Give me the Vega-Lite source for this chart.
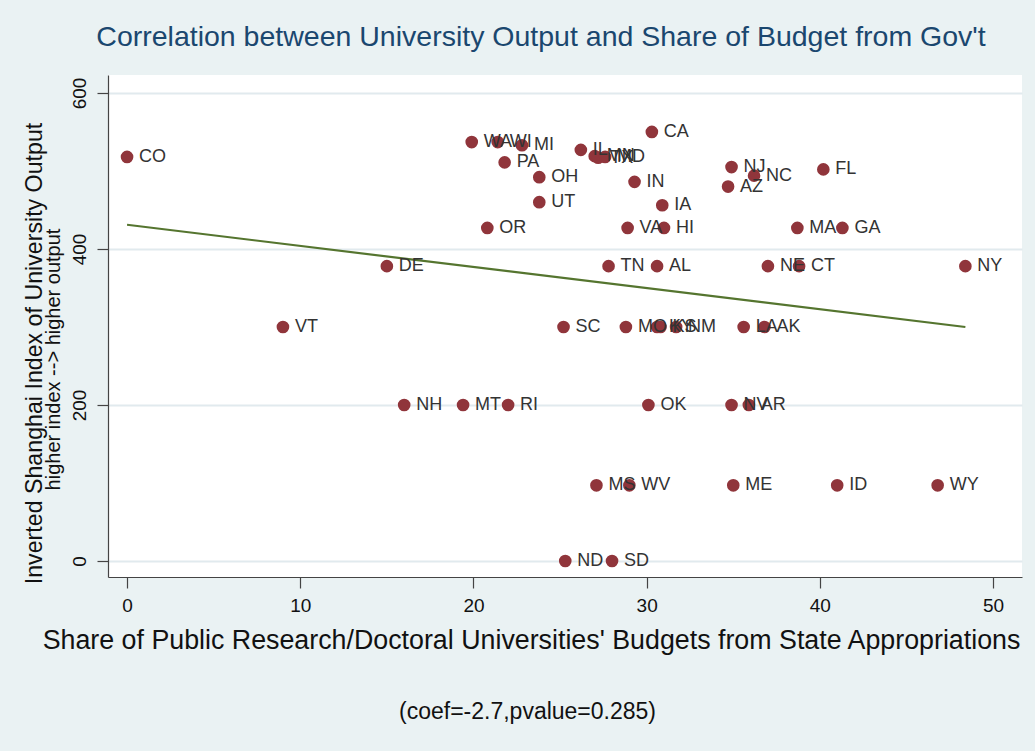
{
  "$schema": "https://vega.github.io/schema/vega-lite/v6.json",
  "width": 914,
  "height": 502,
  "autosize": {"type": "none"},
  "padding": {"left": 108, "top": 75, "right": 13, "bottom": 174},
  "background": "#EAF2F3",
  "title": {
    "text": "Correlation between University Output and Share of Budget from Gov't",
    "fontSize": 28.5,
    "font": "Liberation Sans",
    "fontWeight": "normal",
    "color": "#1A476F",
    "anchor": "middle",
    "dx": -24,
    "offset": 24
  },
  "config": {
    "view": {"stroke": null, "fill": "white"},
    "font": "Liberation Sans"
  },
  "datasets": {
    "states": [
      {"state": "CO", "share": 0, "index": 518},
      {"state": "VT", "share": 9.0, "index": 300},
      {"state": "DE", "share": 15.0, "index": 378},
      {"state": "NH", "share": 16.0, "index": 200},
      {"state": "MT", "share": 19.4, "index": 200},
      {"state": "RI", "share": 22.0, "index": 200},
      {"state": "WA", "share": 19.9, "index": 537},
      {"state": "WI", "share": 21.4, "index": 537},
      {"state": "MI", "share": 22.8, "index": 533},
      {"state": "PA", "share": 21.8, "index": 511},
      {"state": "OH", "share": 23.8, "index": 492},
      {"state": "UT", "share": 23.8, "index": 460},
      {"state": "OR", "share": 20.8, "index": 427},
      {"state": "CA", "share": 30.3, "index": 550},
      {"state": "IN", "share": 29.3, "index": 486},
      {"state": "IA", "share": 30.9, "index": 456},
      {"state": "VA", "share": 28.9, "index": 427},
      {"state": "HI", "share": 31.0, "index": 427},
      {"state": "TN", "share": 27.8, "index": 378},
      {"state": "AL", "share": 30.6, "index": 378},
      {"state": "IL", "share": 26.2, "index": 527},
      {"state": "MN", "share": 27.0, "index": 519},
      {"state": "TX", "share": 27.2, "index": 517},
      {"state": "MD", "share": 27.6, "index": 518},
      {"state": "NJ", "share": 34.9, "index": 505},
      {"state": "NC", "share": 36.2, "index": 494},
      {"state": "AZ", "share": 34.7, "index": 480},
      {"state": "FL", "share": 40.2, "index": 502},
      {"state": "MA", "share": 38.7, "index": 427},
      {"state": "GA", "share": 41.3, "index": 427},
      {"state": "NE", "share": 37.0, "index": 378},
      {"state": "CT", "share": 38.8, "index": 378},
      {"state": "NY", "share": 48.4, "index": 378},
      {"state": "SC", "share": 25.2, "index": 300},
      {"state": "MO", "share": 28.8, "index": 300},
      {"state": "KY", "share": 30.6, "index": 300},
      {"state": "KS", "share": 30.8, "index": 300},
      {"state": "NM", "share": 31.7, "index": 300},
      {"state": "LA", "share": 35.6, "index": 300},
      {"state": "AK", "share": 36.8, "index": 300},
      {"state": "OK", "share": 30.1, "index": 200},
      {"state": "NV", "share": 34.9, "index": 200},
      {"state": "AR", "share": 35.9, "index": 200},
      {"state": "MS", "share": 27.1, "index": 97},
      {"state": "WV", "share": 29.0, "index": 97},
      {"state": "ME", "share": 35.0, "index": 97},
      {"state": "ID", "share": 41.0, "index": 97},
      {"state": "WY", "share": 46.8, "index": 97},
      {"state": "ND", "share": 25.3, "index": 0},
      {"state": "SD", "share": 28.0, "index": 0}
    ],
    "fit": [
      {"share": 0, "fitted": 431},
      {"share": 48.4, "fitted": 300}
    ]
  },
  "resolve": {"scale": {"x": "independent", "y": "independent"}},
  "layer": [
    {
      "layer": [
        {
          "data": {"name": "fit"},
          "mark": {"type": "line", "color": "#55752F", "strokeWidth": 2.2},
          "encoding": {
            "x": {"field": "share", "type": "quantitative"},
            "y": {"field": "fitted", "type": "quantitative"}
          }
        },
        {
          "data": {"name": "states"},
          "mark": {"type": "circle", "size": 160, "color": "#90353B", "opacity": 1},
          "encoding": {
            "x": {
              "field": "share",
              "type": "quantitative",
              "scale": {"domain": [-1.1, 51.67], "nice": false, "zero": false},
              "axis": {
                "orient": "bottom",
                "values": [0, 10, 20, 30, 40, 50],
                "grid": false,
                "tickSize": 11,
                "tickColor": "#444",
                "domainColor": "#444",
                "domainWidth": 1.2,
                "tickWidth": 1.2,
                "labelFontSize": 19,
                "labelColor": "#111",
                "labelPadding": 8,
                "title": "Share of Public Research/Doctoral Universities' Budgets from State Appropriations",
                "titleFontSize": 26.8,
                "titleFontWeight": "normal",
                "titleColor": "#111",
                "titleX": 423,
                "titleY": 50,
                "titleBaseline": "top",
                "titleAlign": "center"
              }
            },
            "y": {
              "field": "index",
              "type": "quantitative",
              "scale": {"domain": [-20.5, 623], "nice": false, "zero": false},
              "axis": {
                "orient": "left",
                "values": [0, 200, 400, 600],
                "grid": true,
                "gridColor": "#E1EAEE",
                "gridWidth": 2,
                "tickSize": 11,
                "tickColor": "#444",
                "domainColor": "#444",
                "domainWidth": 1.2,
                "tickWidth": 1.2,
                "labelFontSize": 19,
                "labelColor": "#111",
                "labelAngle": 270,
                "labelAlign": "center",
                "labelBaseline": "bottom",
                "labelPadding": 8,
                "title": "Inverted Shanghai Index of University Output",
                "titleFontSize": 23.2,
                "titleFontWeight": "normal",
                "titleColor": "#111",
                "titleX": -62,
                "titleY": 278,
                "titleAngle": 270,
                "titleAlign": "center",
                "titleBaseline": "bottom"
              }
            }
          }
        },
        {
          "data": {"name": "states"},
          "mark": {"type": "text", "align": "left", "baseline": "middle", "dx": 12, "fontSize": 18, "color": "#333333"},
          "encoding": {
            "x": {"field": "share", "type": "quantitative"},
            "y": {"field": "index", "type": "quantitative"},
            "text": {"field": "state"}
          }
        }
      ]
    },
    {
      "data": {"name": "states"},
      "mark": {"type": "point", "opacity": 0},
      "encoding": {
        "x": {
          "field": "share",
          "type": "quantitative",
          "scale": {"domain": [-1.1, 51.67], "nice": false, "zero": false},
          "axis": {
            "orient": "bottom",
            "labels": false,
            "ticks": false,
            "domain": false,
            "grid": false,
            "title": "(coef=-2.7,pvalue=0.285)",
            "titleFontSize": 23,
            "titleFontWeight": "normal",
            "titleColor": "#111",
            "titleX": 419,
            "titleY": 123,
            "titleBaseline": "top",
            "titleAlign": "center"
          }
        },
        "y": {
          "field": "index",
          "type": "quantitative",
          "scale": {"domain": [-20.5, 623], "nice": false, "zero": false},
          "axis": {
            "orient": "left",
            "labels": false,
            "ticks": false,
            "domain": false,
            "grid": false,
            "title": "higher index --> higher output",
            "titleFontSize": 20,
            "titleFontWeight": "normal",
            "titleColor": "#111",
            "titleX": -45,
            "titleY": 284,
            "titleAngle": 270,
            "titleAlign": "center",
            "titleBaseline": "bottom"
          }
        }
      }
    }
  ]
}
